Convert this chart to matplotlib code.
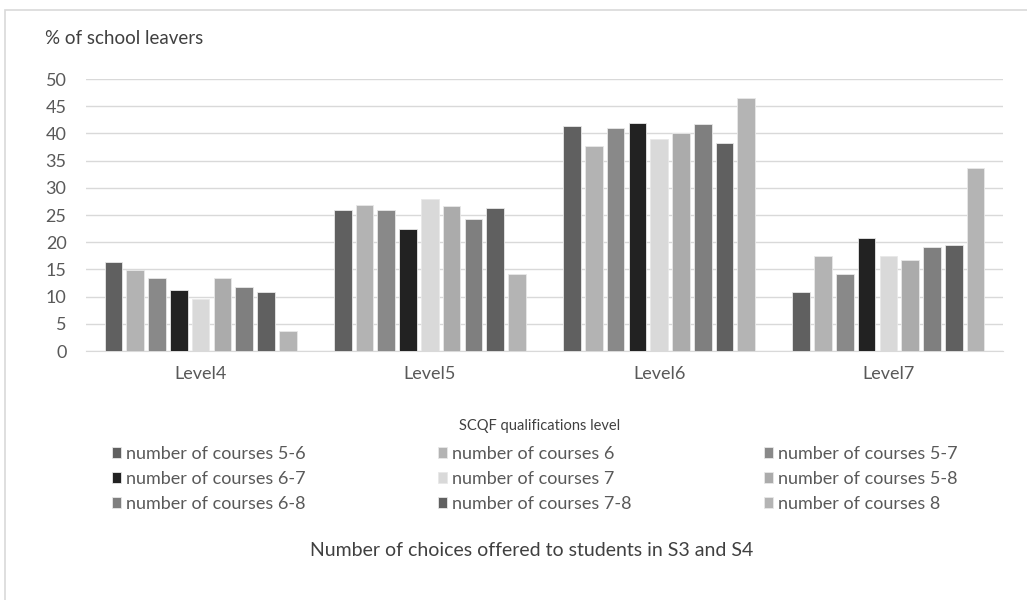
import matplotlib.pyplot as plt
import numpy as np

plt.rcParams["font.family"] = ["Lato", "DejaVu Sans"]

LEVELS = ["Level4", "Level5", "Level6", "Level7"]
SERIES = [
    "number of courses 5-6",
    "number of courses 6",
    "number of courses 5-7",
    "number of courses 6-7",
    "number of courses 7",
    "number of courses 5-8",
    "number of courses 6-8",
    "number of courses 7-8",
    "number of courses 8",
]
COLORS = ["#606060", "#b3b3b3", "#898989", "#222222", "#d9d9d9",
          "#ababab", "#7f7f7f", "#606060", "#b4b4b4"]

# % of school leavers, one list per series (Level4..Level7)
c56 = [16.4, 26.0, 41.3, 10.9]
c6 = [14.9, 26.9, 37.7, 17.4]
c57 = [13.5, 26.0, 41.0, 14.2]
c67 = [11.2, 22.4, 42.0, 20.7]
c7 = [9.6, 27.9, 39.0, 17.4]
c58 = [13.5, 26.6, 40.0, 16.8]
c68 = [11.8, 24.3, 41.7, 19.1]
c78 = [10.9, 26.3, 38.3, 19.4]
c8 = [3.7, 14.2, 46.5, 33.7]
VALUES = [c56, c6, c57, c67, c7, c58, c68, c78, c8]

fig = plt.figure(figsize=(10.27, 6.0), dpi=100)
ax = fig.add_axes([86 / 1027, 1 - 351 / 600, (1003 - 86) / 1027, (351 - 79) / 600])

# outer chart border
fig.patches.append(plt.Rectangle((5 / 1027, -0.05), 1.1, 1 - 10 / 600 + 0.05,
                                 transform=fig.transFigure, fill=False,
                                 edgecolor="#d9d9d9", linewidth=1.2))

x = np.arange(len(LEVELS))
slot = 0.095
width = 0.077
handles = []
for i, (vals, col) in enumerate(zip(VALUES, COLORS)):
    b = ax.bar(x + (i - 4) * slot, vals, width, color=col,
               edgecolor="#e8e8e8", linewidth=0.6, zorder=3, label=SERIES[i])
    handles.append(b)

ax.set_xlim(-0.5, 3.5)
ax.set_ylim(0, 50)
ax.set_yticks(range(0, 51, 5))
ax.set_xticks(x)
ax.set_xticklabels(LEVELS)
ax.yaxis.grid(True, color="#d9d9d9", linewidth=1, zorder=0)
for s in ["top", "right", "left"]:
    ax.spines[s].set_visible(False)
ax.spines["bottom"].set_color("#d9d9d9")
ax.tick_params(axis="both", length=0, labelsize=13, colors="#595959")
ax.tick_params(axis="y", pad=14)
ax.tick_params(axis="x", pad=11)

fig.text(45 / 1027, 1 - 38 / 600, "% of school leavers", fontsize=13.5,
         color="#404040", va="center")
fig.text(540 / 1027, 1 - 426 / 600, "SCQF qualifications level", fontsize=10.5,
         color="#404040", ha="center", va="center")
fig.text(532 / 1027, 1 - 550 / 600, "Number of choices offered to students in S3 and S4",
         fontsize=14, color="#404040", ha="center", va="center")

order = [0, 3, 6, 1, 4, 7, 2, 5, 8]
leg = fig.legend([handles[i] for i in order], [SERIES[i] for i in order],
                 ncol=3, loc="upper left", bbox_to_anchor=(112 / 1027, 1 - 446 / 600),
                 frameon=False, fontsize=13, handlelength=0.5, handleheight=0.5,
                 handletextpad=0.3, columnspacing=7.3, labelspacing=0.5,
                 labelcolor="#595959", borderpad=0, borderaxespad=0)

fig.savefig("out.png", dpi=100)
